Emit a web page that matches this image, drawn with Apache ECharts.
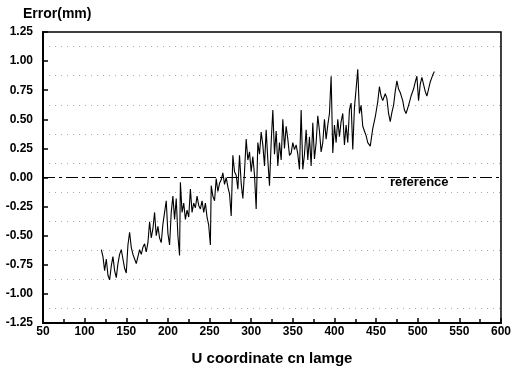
<!DOCTYPE html>
<html lang="en">
  <head>
    <meta charset="UTF-8" />
    <title>Error vs U coordinate</title>
    <script src="https://cdn.jsdelivr.net/npm/echarts@6.0.0/dist/echarts.min.js"></script>
    <style>
      html, body { margin: 0; padding: 0; background: #fff; }
    </style>
  </head>
  <body>
    <div id="main" style="width: 514px; height: 371px"></div>
    <script type="text/javascript">
      // U coordinate (pixels)
      const uCoords = [
        120, 122, 124, 126, 128, 130, 132, 134, 136, 138, 140, 142, 144, 146, 148, 150,
        152, 154, 156, 158, 160, 162, 164, 166, 168, 170, 172, 174, 176, 178, 180, 182,
        184, 186, 188, 190, 192, 194, 196, 198, 200, 202, 204, 206, 208, 210, 212, 214,
        215, 217, 219, 221, 223, 225, 227, 229, 231, 233, 235, 237, 239, 241, 243, 245,
        247, 249, 251, 252, 254, 256, 258, 260, 262, 264, 266, 268, 270, 272, 274, 276,
        278, 280, 282, 284, 286, 288, 290, 292, 294, 296, 298, 300, 302, 304, 306, 308,
        310, 312, 314, 316, 318, 320, 322, 324, 326, 328, 330, 332, 334, 336, 338, 340,
        342, 344, 346, 348, 350, 352, 354, 356, 358, 360, 362, 364, 366, 368, 370, 372,
        374, 376, 378, 380, 382, 384, 386, 388, 390, 392, 394, 396, 398, 400, 402, 404,
        406, 408, 410, 412, 414, 416, 418, 420, 422, 424, 426, 428, 430, 432, 434, 436,
        438, 440, 443, 446, 449, 452, 454, 456, 458, 461, 463, 465, 467, 469, 471, 473,
        475, 477, 479, 482, 484, 486, 489, 492, 495, 497, 499, 501, 503, 505, 507, 509,
        511, 513, 515, 518, 520
      ];

      // Error (mm) at each U coordinate
      const errorMm = [
        -0.62, -0.68, -0.80, -0.70, -0.84, -0.88, -0.76, -0.68, -0.80, -0.86, -0.74, -0.66, -0.62, -0.70, -0.78, -0.82,
        -0.58, -0.47, -0.60, -0.66, -0.70, -0.74, -0.68, -0.62, -0.66, -0.60, -0.57, -0.64, -0.56, -0.38, -0.52, -0.44,
        -0.30, -0.50, -0.42, -0.52, -0.56, -0.40, -0.30, -0.20, -0.48, -0.58, -0.30, -0.16, -0.36, -0.18, -0.50, -0.67,
        -0.04, -0.30, -0.22, -0.36, -0.28, -0.34, -0.10, -0.30, -0.22, -0.26, -0.16, -0.24, -0.27, -0.20, -0.30, -0.22,
        -0.34, -0.41, -0.58, -0.07, -0.16, -0.20, -0.01, -0.12, -0.05, -0.02, 0.04, -0.06, 0.00, -0.08, -0.14, -0.33,
        0.19, 0.05, 0.02, -0.10, 0.19, -0.05, -0.18, 0.05, 0.33, 0.15, 0.22, 0.05, 0.18, 0.02, -0.27, 0.30,
        0.20, 0.39, 0.28, 0.10, 0.41, 0.15, -0.07, 0.30, 0.58, 0.20, 0.40, 0.10, 0.30, 0.15, 0.50, 0.25,
        0.44, 0.33, 0.19, 0.21, 0.30, 0.24, 0.28, 0.20, 0.07, 0.58, 0.07, 0.20, 0.41, 0.15, 0.35, 0.10,
        0.47, 0.16, 0.30, 0.53, 0.40, 0.22, 0.30, 0.50, 0.33, 0.45, 0.55, 0.87, 0.21, 0.45, 0.30, 0.50,
        0.35, 0.48, 0.55, 0.28, 0.45, 0.30, 0.58, 0.64, 0.24, 0.60, 0.76, 0.93, 0.55, 0.62, 0.44, 0.40,
        0.36, 0.30, 0.27, 0.42, 0.52, 0.65, 0.78, 0.70, 0.66, 0.72, 0.68, 0.55, 0.48, 0.56, 0.62, 0.74,
        0.83, 0.76, 0.73, 0.66, 0.58, 0.55, 0.62, 0.70, 0.76, 0.82, 0.87, 0.66, 0.80, 0.86, 0.80, 0.74,
        0.70, 0.76, 0.82, 0.88, 0.91
      ];

      const referenceLevel = 0;

      let myChart = echarts.init(document.getElementById("main"));

      const font = "'Liberation Sans', Arial, sans-serif";

      let options = {
        animation: false,
        backgroundColor: "#fff",
        grid: {
          left: 43,
          right: 9,
          top: 32,
          bottom: 46,
          show: true,
          borderColor: "#000",
          borderWidth: 1.5,
        },
        xAxis: {
          type: "value",
          min: 50,
          max: 600,
          interval: 50,
          name: "U coordinate cn lamge",
          nameLocation: "middle",
          nameGap: 28,
          nameTextStyle: { color: "#000", fontFamily: font, fontWeight: "bold", fontSize: 15 },
          axisLine: { onZero: false, lineStyle: { color: "#000", width: 2 } },
          axisTick: { inside: true, length: 5, lineStyle: { color: "#000", width: 1.5 } },
          minorTick: { show: true, splitNumber: 2, length: 4, lineStyle: { color: "#000", width: 1.5 } },
          axisLabel: { color: "#000", fontFamily: font, fontWeight: "bold", fontSize: 12, margin: 3 },
          splitLine: { show: false },
        },
        yAxis: {
          type: "value",
          min: -1.25,
          max: 1.25,
          interval: 0.25,
          name: "Error(mm)",
          nameGap: 11,
          nameTextStyle: {
            color: "#000", fontFamily: font, fontWeight: "bold", fontSize: 14,
            align: "left", padding: [0, 0, 0, -20],
          },
          axisLine: { onZero: false, lineStyle: { color: "#000", width: 2 } },
          axisTick: { inside: true, length: 5, lineStyle: { color: "#000", width: 1.5 } },
          axisLabel: {
            color: "#000", fontFamily: font, fontWeight: "bold", fontSize: 12, margin: 10,
            formatter: (v) => v.toFixed(2),
          },
          splitLine: { show: false },
          minorTick: { show: false, splitNumber: 2 },
          minorSplitLine: {
            show: true,
            lineStyle: { color: "#aaa", width: 1, type: [1, 5] },
          },
        },
        series: [
          {
            name: "error",
            type: "line",
            data: uCoords.map((u, i) => [u, errorMm[i]]),
            showSymbol: false,
            lineStyle: { color: "#000", width: 1.1 },
            markLine: {
              silent: true,
              symbol: "none",
              label: { show: false },
              lineStyle: { color: "#000", width: 1, type: [12, 4, 3, 4] },
              data: [{ yAxis: referenceLevel }],
            },
          },
        ],
        graphic: [
          {
            type: "text",
            left: 390,
            top: 176,
            style: {
              text: "reference",
              fill: "#000",
              font: "bold 13px " + font,
            },
          },
        ],
      };

      myChart.setOption(options);
    </script>
  </body>
</html>
